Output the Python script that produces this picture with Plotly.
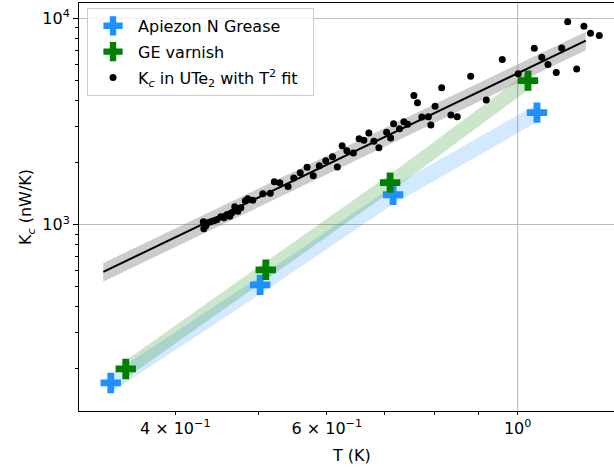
import numpy as np
import plotly.graph_objects as go

# ---------------- data ----------------
T_apiezon = [0.3366, 0.502, 0.7165, 1.053]
K_apiezon = [171, 511, 1398, 3497]

T_ge = [0.3504, 0.5097, 0.7108, 1.028]
K_ge = [200, 605, 1600, 5000]

band_rel_err = 0.10  # relative half-width of the shaded bands

T_ute2 = [0.4312, 0.4318, 0.4341, 0.4364, 0.4399, 0.4435, 0.4471, 0.4519, 0.4556, 0.4592,
          0.4629, 0.4654, 0.4691, 0.4729, 0.4767, 0.4825, 0.4857, 0.4923, 0.5056, 0.5159,
          0.5214, 0.5291, 0.5410, 0.5493, 0.5589, 0.5692, 0.5787, 0.5881, 0.5984, 0.6093,
          0.6172, 0.6252, 0.6331, 0.6442, 0.6543, 0.6626, 0.6715, 0.6806, 0.6898, 0.7042,
          0.7117, 0.7175, 0.7289, 0.7375, 0.7449, 0.7575, 0.7648, 0.7738, 0.7874, 0.7927,
          0.8017, 0.8159, 0.8364, 0.8507, 0.8818, 0.9194, 0.9596, 1.0016, 1.0455, 1.0666,
          1.0844, 1.1088, 1.1250, 1.1432, 1.1711, 1.1940, 1.2150, 1.2441]
K_ute2 = [1034, 956, 989, 1023, 1034, 1046, 1057, 1094, 1081, 1118,
          1100, 1144, 1223, 1163, 1209, 1308, 1337, 1315, 1414, 1422,
          1617, 1599, 1534, 1686, 1788, 1901, 1729, 1933, 2045, 2138,
          1906, 2418, 2287, 2229, 2615, 2572, 2787, 2543, 2365, 2812,
          2636, 3092, 2924, 3162, 3075, 4229, 3910, 3333, 3344, 3048,
          3760, 4614, 3401, 3344, 5247, 4030, 6324, 5390, 7166, 6487,
          5980, 5469, 7191, 9649, 5699, 9176, 8477, 8269]

fit_coef = 5430      # K = a * T^2  (nW/K^3)
fit_coef_err = 560
fit_T_range = [0.33, 1.2]

x_tick_vals = [0.4, 0.6, 1.0]
x_tick_text = ["4 × 10<sup>−1</sup>", "6 × 10<sup>−1</sup>", "10<sup>0</sup>"]
x_minor_vals = [0.5, 0.7, 0.8, 0.9]
y_tick_vals = [1000, 10000]
y_tick_text = ["10<sup>3</sup>", "10<sup>4</sup>"]
y_minor_vals = [200, 300, 400, 500, 600, 700, 800, 900,
                2000, 3000, 4000, 5000, 6000, 7000, 8000, 9000]

# ---------------- figure ----------------
BLUE = "#1E90FF"
GREEN = "#008000"
FONT = "DejaVu Sans"
FS = 16

fig = go.Figure()

def band(T, K, color, rel):
    K = np.asarray(K, dtype=float)
    fig.add_trace(go.Scatter(x=T, y=K * (1 - rel), mode="lines", line=dict(width=0),
                             showlegend=False, hoverinfo="skip"))
    fig.add_trace(go.Scatter(x=T, y=K * (1 + rel), mode="lines", line=dict(width=0),
                             fill="tonexty", fillcolor=color, showlegend=False,
                             hoverinfo="skip"))

band(T_apiezon, K_apiezon, "rgba(30,144,255,0.2)", band_rel_err)
band(T_ge, K_ge, "rgba(0,128,0,0.2)", band_rel_err)

# T^2 fit band
T_fit = np.geomspace(fit_T_range[0], fit_T_range[1], 120)
fig.add_trace(go.Scatter(x=T_fit, y=(fit_coef - fit_coef_err) * T_fit**2, mode="lines",
                         line=dict(width=0), showlegend=False, hoverinfo="skip"))
fig.add_trace(go.Scatter(x=T_fit, y=(fit_coef + fit_coef_err) * T_fit**2, mode="lines",
                         line=dict(width=0), fill="tonexty",
                         fillcolor="rgba(128,128,128,0.4)", showlegend=False,
                         hoverinfo="skip"))

fig.add_trace(go.Scatter(x=T_apiezon, y=K_apiezon, mode="markers", name="Apiezon N Grease",
                         legendgroup="a",
                         marker=dict(symbol="cross", size=17, color=BLUE, line=dict(width=0))))
fig.add_trace(go.Scatter(x=T_ge, y=K_ge, mode="markers", name="GE varnish",
                         legendgroup="b",
                         marker=dict(symbol="cross", size=17, color=GREEN, line=dict(width=0))))
fig.add_trace(go.Scatter(x=T_ute2, y=K_ute2, mode="markers",
                         name="K<sub><i>c</i></sub> in UTe<sub>2</sub> with T<sup>2</sup> fit\u00a0\u00a0",
                         legendgroup="c",
                         marker=dict(symbol="circle", size=7, color="black", line=dict(width=0))))
fig.add_trace(go.Scatter(x=T_fit, y=fit_coef * T_fit**2, mode="lines",
                         line=dict(color="black", width=2), showlegend=False,
                         hoverinfo="skip"))

# grid line at 10^0 on x
fig.add_shape(type="line", xref="x", yref="paper", x0=1.0, x1=1.0, y0=0, y1=1,
              line=dict(color="#bdbdbd", width=1.1), layer="below")

fig.update_layout(
    width=614, height=468,
    margin=dict(l=79, r=0, t=3, b=57, autoexpand=False),
    paper_bgcolor="white", plot_bgcolor="white",
    font=dict(family=FONT, size=FS, color="black"),
    showlegend=True,
    legend=dict(x=0.015, y=0.988, xanchor="left", yanchor="top",
                bgcolor="rgba(255,255,255,0.8)", bordercolor="#cccccc", borderwidth=1,
                font=dict(size=FS), tracegroupgap=2, itemwidth=40),
    annotations=[dict(text="T (K)", xref="paper", yref="paper", x=0.51, y=-0.108,
                      xanchor="center", yanchor="middle", showarrow=False,
                      font=dict(size=FS))],
)

fig.update_xaxes(
    type="log", range=[np.log10(0.3092), np.log10(1.294)], automargin=False,
    tickmode="array", tickvals=x_tick_vals, ticktext=x_tick_text,
    ticks="outside", ticklen=3, tickwidth=1, tickcolor="black",
    tickfont=dict(size=FS),
    showgrid=False, zeroline=False,
    showline=True, linecolor="black", linewidth=1, mirror=True,
    minor=dict(tickmode="array", tickvals=x_minor_vals, ticks="outside", ticklen=3,
               tickwidth=0.8, tickcolor="black", showgrid=False),
)
fig.update_yaxes(
    type="log", range=[2.0971, 4.0752], automargin=False,
    tickmode="array", tickvals=y_tick_vals, ticktext=y_tick_text,
    ticks="outside", ticklen=5, tickwidth=1, tickcolor="black",
    tickfont=dict(size=FS),
    showgrid=True, gridcolor="#bdbdbd", gridwidth=1.1, zeroline=False,
    showline=True, linecolor="black", linewidth=1, mirror=False,
    title=dict(text="K<sub><i>c</i></sub> (nW/K)", standoff=6, font=dict(size=FS)),
    minor=dict(tickmode="array", tickvals=y_minor_vals, ticks="outside", ticklen=3,
               tickwidth=0.8, tickcolor="black", showgrid=False),
)

fig.write_html("out.html", config={"displayModeBar": False},
               post_script="document.body.style.margin='0';")
